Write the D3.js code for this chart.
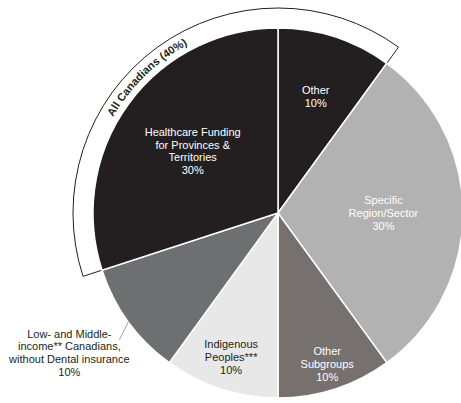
<!DOCTYPE html>
<html><head><meta charset="utf-8">
<script src="https://cdn.jsdelivr.net/npm/d3@7"></script>
<style>body{margin:0;background:#fff}svg{display:block}</style>
</head><body>
<svg id="c" width="461" height="403"></svg>
<script>
const categories = [
  ["Other", "10%"],
  ["Specific", "Region/Sector", "30%"],
  ["Other", "Subgroups", "10%"],
  ["Indigenous", "Peoples***", "10%"],
  ["Low- and Middle-", "income** Canadians,", "without Dental insurance", "10%"],
  ["Healthcare Funding", "for Provinces &", "Territories", "30%"]
];
const values = [10, 30, 10, 10, 10, 30];
const colors = ["#231f20", "#b2b2b2", "#76716f", "#e8e8e8", "#6e6f71", "#231f20"];
const textColors = ["#fff", "#fff", "#fff", "#231f20", "#231f20", "#fff"];
const labelRadius = [0.66, 0.57, 0.86, 0.82, null, 0.57];
const groupLabel = "All Canadians (40%)";
const groupSlices = [5, 0]; // Healthcare + Other = 40%

const svg = d3.select("#c");
const cx = 278, cy = 213, R = 185, bandW = 20;
const g = svg.append("g").attr("transform", `translate(${cx},${cy})`);
const font = "'Liberation Sans', Arial, sans-serif";

const pie = d3.pie().sort(null).startAngle(0).endAngle(2 * Math.PI);
const arcs = pie(values);
const arc = d3.arc().innerRadius(0).outerRadius(R);

// outer band for group
const a0 = arcs[groupSlices[0]].startAngle;
const a1 = arcs[groupSlices[1]].endAngle + 2 * Math.PI;
g.append("path")
  .attr("d", d3.arc().innerRadius(R - 1).outerRadius(R + bandW).startAngle(a0).endAngle(a1)())
  .attr("fill", "#fff").attr("stroke", "#231f20").attr("stroke-width", 1);

// slices
g.selectAll("path.slice").data(arcs).join("path")
  .attr("class", "slice")
  .attr("d", arc)
  .attr("fill", (d, i) => colors[i])
  .attr("stroke", "#fff").attr("stroke-width", 1.5).attr("stroke-linejoin", "miter");

// group label on path
const mid = (a0 + a1) / 2 - 0.14;
const span = 1.2;
const tr = R + 6;
const pathArc = d3.path();
pathArc.arc(0, 0, tr, mid - span - Math.PI / 2, mid + span - Math.PI / 2);
g.append("path").attr("id", "grpPath").attr("d", pathArc.toString()).attr("fill", "none");
g.append("text")
  .attr("font-family", font).attr("font-size", 11).attr("font-weight", "bold").attr("fill", "#231f20")
  .append("textPath").attr("href", "#grpPath").attr("startOffset", "50%").attr("text-anchor", "middle")
  .text(groupLabel);

// labels
const lh = 12.7;
arcs.forEach((d, i) => {
  const lines = categories[i];
  let x, y, anchor = "middle";
  const m = (d.startAngle + d.endAngle) / 2;
  if (labelRadius[i] != null) {
    const r = labelRadius[i] * R;
    x = r * Math.sin(m); y = -r * Math.cos(m);
  } else {
    const ang = d.startAngle + (d.endAngle - d.startAngle) * 0.5;
    const p0 = [R * Math.sin(ang), -R * Math.cos(ang)];
    const p1 = [p0[0] - 9, p0[1] + 18];
    g.append("line").attr("x1", p0[0]).attr("y1", p0[1]).attr("x2", p1[0]).attr("y2", p1[1])
      .attr("stroke", "#8c8c8c").attr("stroke-width", 0.8);
    x = p1[0] - 50; y = p1[1] + 13;
  }
  const t = g.append("text").attr("font-family", font).attr("font-size", 11)
    .attr("fill", textColors[i]).attr("text-anchor", anchor);
  const y0 = y - (lines.length - 1) * lh / 2;
  lines.forEach((s, k) => {
    t.append("tspan").attr("x", x).attr("y", y0 + k * lh).attr("dy", "0.35em").text(s);
  });
});
</script>
</body></html>
